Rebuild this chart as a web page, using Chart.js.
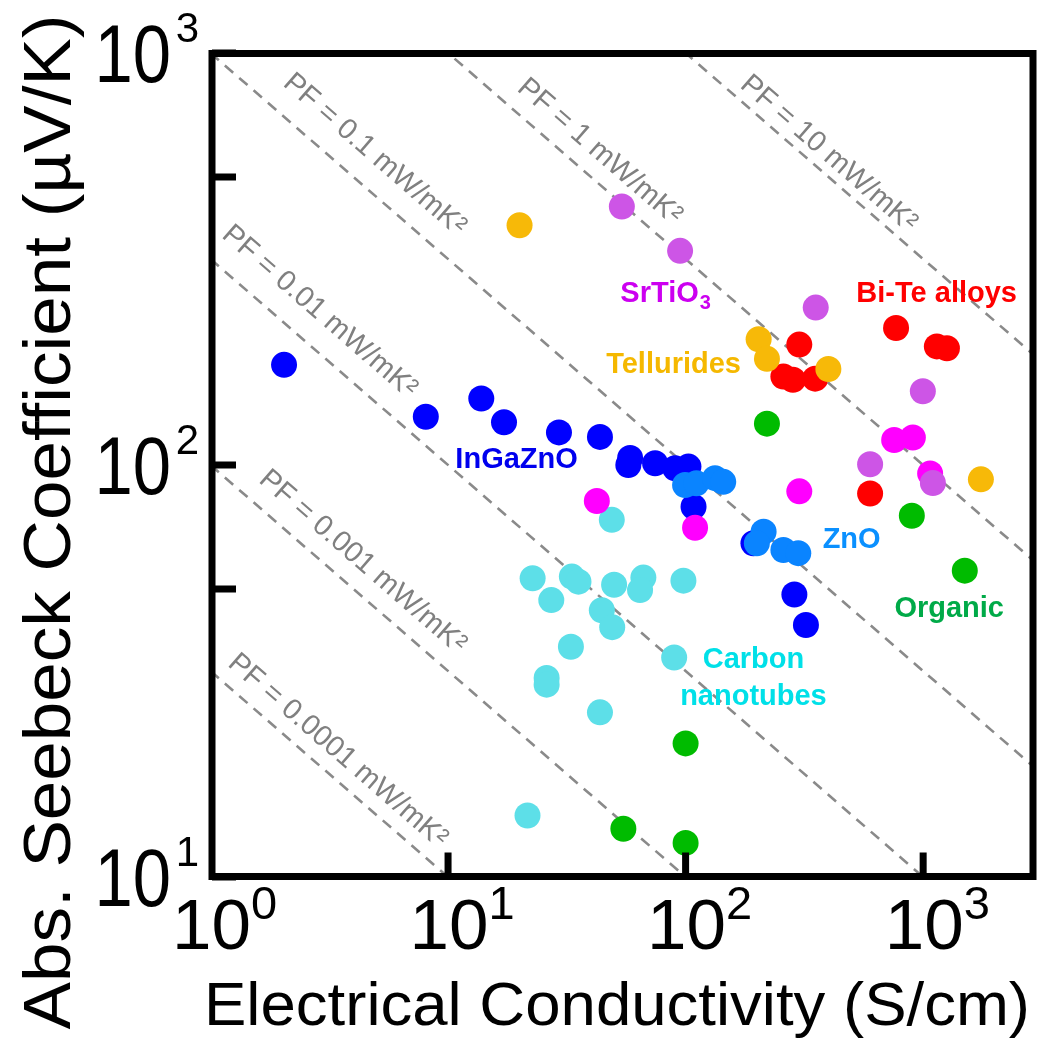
<!DOCTYPE html>
<html><head><meta charset="utf-8">
<script src="https://cdn.jsdelivr.net/npm/chart.js@4/dist/chart.umd.min.js"></script>
<style>html,body{margin:0;padding:0;background:#fff;}canvas{display:block}</style>
</head><body>
<canvas id="c" width="1039" height="1038"></canvas>
<script>
// ---------------- data (σ in S/cm, |S| in µV/K) ----------------
const inGaZnOX = [2.04, 8.06, 13.8, 17.2, 29.3, 43.6, 58.4, 57.4, 74.4, 90.3, 102.8, 108, 193, 287, 321];
const inGaZnOY = [175, 131, 145, 127, 120, 117, 104, 100, 101, 98.2, 99.1, 79.2, 64.6, 48.5, 40.9];
const znoX = [99.5, 111, 133, 144, 213, 199.5, 258, 298];
const znoY = [89.4, 90.3, 92.9, 91, 68.9, 64.6, 62.2, 61.1];
const magentaX = [42.3, 109.6, 301, 755, 905, 1070];
const magentaY = [81.8, 70.4, 86.3, 115, 116.6, 95.4];
const srTiO3X = [53.9, 94.8, 353, 997, 598, 1099];
const srTiO3Y = [424, 331, 241, 151, 100.4, 90.4];
const biTeX = [769, 301, 1142, 1259, 258, 283, 351, 598];
const biTeY = [215, 196, 194, 192, 164, 161, 162, 85.3];
const telluridesX = [20, 203, 220, 399, 1750];
const telluridesY = [382, 202, 181, 171, 92.3];
const organicX = [220, 896, 1497, 100, 54.7, 100];
const organicY = [126, 75.3, 55.4, 21.1, 13.1, 12.1];
const cntX = [22.7, 27.2, 33.2, 35.4, 44.4, 49.1, 50.0, 48.9, 66.4, 64.3, 97.9, 89.5, 32.9, 26.0, 26.0, 43.6, 21.6];
const cntY = [53.1, 47.0, 53.6, 52.1, 44.4, 40.4, 51.2, 73.6, 53.3, 49.7, 52.4, 34.1, 36.2, 30.4, 29.3, 25.1, 14.1];

// power-factor guide lines (mW/mK^2): endpoints at σ = 1 and σ = 10^4
const pfNames = ['0.0001', '0.001', '0.01', '0.1', '1', '10'];
const pfLineX = [1, 10000];
const pfLineY = [[31.62, 0.3162], [100, 1], [316.2, 3.162], [1000, 10], [3162, 31.62], [10000, 100]];
const pfLabelX = [3.48, 4.43, 2.92, 4.98, 44.1, 405.8];
const pfLabelY = [20.45, 58.8, 237.8, 572, 582, 575];

// group labels
const groupText = ['SrTiO', 'Bi-Te alloys', 'Tellurides', 'InGaZnO', 'ZnO', 'Organic', 'Carbon', 'nanotubes'];
const groupLabelX = [77.7, 1140, 89.0, 19.43, 500, 1287, 193, 193];
const groupLabelY = [263, 263, 176.8, 104, 66.5, 45.2, 34.0, 27.7];

// axes
const xMin = 1, xMax = 2900, yMin = 10, yMax = 1000;
const xTickValues = [1, 10, 100, 1000];
const xTickExp = ['0', '1', '2', '3'];
const yTickValues = [10, 100, 1000];
const yTickExp = ['1', '2', '3'];
const yMinorTicks = [50, 500];
const xTitle = 'Electrical Conductivity (S/cm)';
const yTitle = 'Abs. Seebeck Coefficient (\u00B5V/K)';

// ---------------- styles ----------------
const FONT = "'Liberation Sans', Arial, Helvetica, sans-serif";
const groupColors = ['#cc00f0', '#ff0000', '#f5b800', '#0000ee', '#0a90ff', '#00aa48', '#00e0e8', '#00e0e8'];
const zip = (xs, ys) => xs.map((v, i) => ({x: v, y: ys[i]}));
function pts(label, xs, ys, color) {
  return {type: 'scatter', label, data: zip(xs, ys), backgroundColor: color, borderColor: color,
    pointRadius: 13, pointBorderWidth: 0, pointHoverRadius: 13, showLine: false};
}
const datasets = [
  pts('ZnO', znoX, znoY, '#0a84ff'),
  pts('SrTiO3', srTiO3X, srTiO3Y, '#cd55e6'),
  pts('Tellurides', telluridesX, telluridesY, '#f7b908'),
  pts('Bi-Te alloys', biTeX, biTeY, '#ff0000'),
  pts('other', magentaX, magentaY, '#ff00ff'),
  pts('Organic', organicX, organicY, '#00bb00'),
  pts('Carbon nanotubes', cntX, cntY, '#5ddfe8'),
  pts('InGaZnO', inGaZnOX, inGaZnOY, '#0000ff'),
];
pfNames.forEach((n, i) => {
  datasets.push({type: 'line', label: 'PF ' + n, data: zip(pfLineX, pfLineY[i]),
    borderColor: '#8a8a8a', borderWidth: 2.6, borderDash: [11, 8], pointRadius: 0, fill: false, tension: 0});
});

function fitText(ctx, s, x, y, fontPx, opts) {
  opts = opts || {};
  ctx.save();
  ctx.translate(x, y);
  if (opts.rot) ctx.rotate(opts.rot);
  ctx.font = (opts.weight || '') + ' ' + fontPx + 'px ' + FONT;
  let sx = opts.scaleX || 1;
  if (opts.width) sx = opts.width / ctx.measureText(s).width;
  ctx.scale(sx, 1);
  ctx.textAlign = opts.align || 'left';
  ctx.textBaseline = 'alphabetic';
  ctx.fillStyle = opts.color || '#000';
  ctx.fillText(s, 0, 0);
  const w = ctx.measureText(s).width * sx;
  ctx.restore();
  return w;
}

const overlay = {
  id: 'overlay',
  beforeDatasetsDraw(chart) {
    const {ctx, scales: {x, y}} = chart;
    const ang = Math.atan2(y.getPixelForValue(10) - y.getPixelForValue(100),
                           x.getPixelForValue(100) - x.getPixelForValue(1));
    pfNames.forEach((n, i) => {
      const px = x.getPixelForValue(pfLabelX[i]), py = y.getPixelForValue(pfLabelY[i]);
      ctx.save();
      ctx.translate(px, py);
      ctx.rotate(ang);
      ctx.font = '29px ' + FONT;
      ctx.fillStyle = '#808080';
      ctx.textAlign = 'center';
      ctx.textBaseline = 'alphabetic';
      ctx.fillText('PF = ' + n + ' mW/mK\u00B2', 0, 29 * 0.36);
      ctx.restore();
    });
  },
  afterDatasetsDraw(chart) {
    const {ctx, chartArea: a, scales: {x, y}} = chart;
    // frame
    ctx.save();
    ctx.strokeStyle = '#000';
    ctx.lineWidth = 7;
    ctx.lineCap = 'butt';
    const L = a.left + 1.5, R = a.right, T = a.top + 0.5, B = a.bottom - 0.5;
    ctx.strokeRect(L, T, R - L, B - T);
    // ticks
    ctx.beginPath();
    xTickValues.slice(1).forEach(v => { const px = x.getPixelForValue(v); ctx.moveTo(px, B); ctx.lineTo(px, B - 24); });
    yTickValues.concat(yMinorTicks).forEach(v => { const py = y.getPixelForValue(v); ctx.moveTo(L, py); ctx.lineTo(L + 24, py); });
    ctx.stroke();
    ctx.restore();

    // x tick labels
    xTickValues.forEach((v, i) => {
      const px = x.getPixelForValue(v) + 1;
      const w = fitText(ctx, '10', px, 949, 71, {align: 'center'});
      fitText(ctx, xTickExp[i], px + w / 2, 919, 47, {align: 'left'});
    });
    // y tick labels
    yTickValues.forEach((v, i) => {
      const py = y.getPixelForValue(v);
      fitText(ctx, '10', 171, py + 29, 81, {align: 'right', scaleX: 0.85});
      fitText(ctx, yTickExp[i], 199, py - 11, 42, {align: 'right'});
    });
    // axis titles
    fitText(ctx, xTitle, 617, 1025, 62, {align: 'center', width: 826});
    fitText(ctx, yTitle, 70, 522, 67, {align: 'center', width: 1015, rot: -Math.PI / 2});

    // group labels
    groupText.forEach((t, i) => {
      const px = x.getPixelForValue(groupLabelX[i]), py = y.getPixelForValue(groupLabelY[i]);
      const fs = 29;
      const w = fitText(ctx, t, px, py + fs * 0.358, fs, {align: 'center', weight: 'bold', color: groupColors[i]});
      if (t === 'SrTiO') {
        fitText(ctx, '3', px + w / 2 + 1, py + fs * 0.358 + 7, 20, {align: 'left', weight: 'bold', color: groupColors[i]});
      }
    });
  }
};

new Chart(document.getElementById('c'), {
  data: {datasets},
  options: {
    responsive: false,
    animation: false,
    events: [],
    layout: {autoPadding: false, padding: {left: 210.5, right: 6, top: 53, bottom: 161}},
    plugins: {legend: {display: false}, tooltip: {enabled: false}},
    scales: {
      x: {type: 'logarithmic', min: xMin, max: xMax, display: false},
      y: {type: 'logarithmic', min: yMin, max: yMax, display: false}
    }
  },
  plugins: [overlay]
});
</script>
</body></html>
